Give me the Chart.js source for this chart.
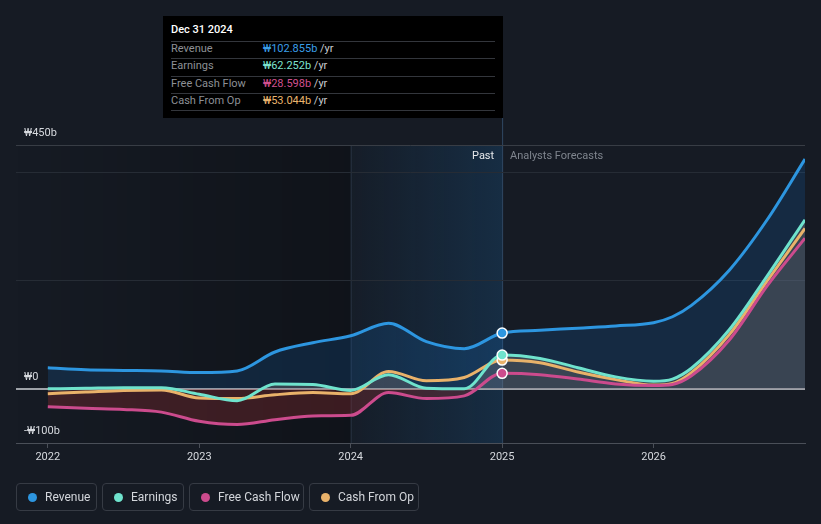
<!DOCTYPE html>
<html><head><meta charset="utf-8">
<script src="https://cdn.jsdelivr.net/npm/chart.js@4/dist/chart.umd.min.js"></script>
<style>
html,body{margin:0;padding:0;background:#161b24;width:821px;height:524px;overflow:hidden;font-family:Roboto,"Noto Sans",sans-serif;}
#wrap{position:absolute;left:0;top:0;width:821px;height:524px;}
canvas{display:block;position:absolute;left:0;top:0;}
.abs{position:absolute;white-space:nowrap;}
.tt{position:absolute;left:163px;top:16px;width:340px;height:102px;background:#000;}
.tt .t{position:absolute;left:8px;top:7px;font-size:11px;color:#fff;font-weight:500;}
.tt .sep{position:absolute;left:8px;width:324px;height:1px;background:#33363c;}
.tt .lab{position:absolute;left:8px;font-size:11px;color:#8d9096;}
.tt .val{position:absolute;left:100px;font-size:11px;color:#c9ccd1;}
.lg{position:absolute;top:483px;border:1px solid #363b44;border-radius:4px;box-sizing:border-box;height:28px;}
.lg .d{position:absolute;left:11px;top:9px;width:9px;height:9px;border-radius:50%;}
.lg .n{position:absolute;left:28px;top:6px;font-size:12px;color:#d3d6db;}
</style></head>
<body>
<div id="wrap">
<canvas id="c" width="821" height="524"></canvas>
<div class="abs" style="left:472px;top:149px;font-size:11px;color:#e6e8eb;">Past</div>
<div class="abs" style="left:510px;top:149px;font-size:11px;color:#7f858e;">Analysts Forecasts</div>
<div class="tt">
  <div class="t">Dec 31 2024</div>
  <div class="sep" style="top:25px"></div>
  <div class="lab" style="top:26px">Revenue</div><div class="val" style="top:26px"><span style="color:#3a9ee8">₩102.855b</span> /yr</div>
  <div class="sep" style="top:42px"></div>
  <div class="lab" style="top:43px">Earnings</div><div class="val" style="top:43px"><span style="color:#7de3cf">₩62.252b</span> /yr</div>
  <div class="sep" style="top:60px"></div>
  <div class="lab" style="top:61px">Free Cash Flow</div><div class="val" style="top:61px"><span style="color:#d2508f">₩28.598b</span> /yr</div>
  <div class="sep" style="top:77px"></div>
  <div class="lab" style="top:78px">Cash From Op</div><div class="val" style="top:78px"><span style="color:#eab56e">₩53.044b</span> /yr</div>
  <div class="sep" style="top:94px"></div>
</div>
<div class="lg" style="left:16px;width:81px"><div class="d" style="background:#2d96e0"></div><div class="n">Revenue</div></div>
<div class="lg" style="left:102px;width:82px"><div class="d" style="background:#6fe3cd"></div><div class="n">Earnings</div></div>
<div class="lg" style="left:189px;width:115px"><div class="d" style="background:#cc4b8d"></div><div class="n">Free Cash Flow</div></div>
<div class="lg" style="left:309px;width:110px"><div class="d" style="background:#e9b26a"></div><div class="n">Cash From Op</div></div>
</div>
<script>
// ---- data (₩ billions) ----
const years = [2022, 2022.25, 2022.5, 2022.75, 2023, 2023.25, 2023.5, 2023.75, 2024, 2024.25, 2024.5, 2024.75, 2025, 2025.25, 2025.5, 2025.75, 2026, 2026.125, 2026.25, 2026.5, 2026.75, 2027];
const revenue      = [38.7, 35, 34, 33, 30, 33, 68, 85, 98, 121, 87, 74, 102.855, 108, 112, 116, 122, 133, 154, 219, 312, 424];
const earnings     = [0, 1, 2, 2, -10, -22, 9, 8, -3, 26, 1, 0, 62.252, 56, 39, 22, 14, 18, 38, 109, 208, 312];
const freeCashFlow = [-33, -36, -38, -43, -60, -66, -57, -50, -49, -7, -18, -13, 28.598, 26, 18, 9, 6, 8, 24, 90, 190, 278];
const cashFromOp   = [-9, -6, -3, -2, -17, -18, -11, -7, -9, 32, 15, 21, 53.044, 48, 31, 17, 7, 10, 30, 100, 199, 296];
const xTickYears = [2022, 2023, 2024, 2025, 2026];
const yTickValues = [-100, 0, 200, 400, 450];
const yTickLabels = {"-100": "-₩100b", "0": "₩0", "450": "₩450b"};
const highlightYear = 2025;

const pts = arr => arr.map((v, i) => ({x: years[i], y: v}));
const ptRadius = ctx => (years[ctx.dataIndex] === highlightYear ? 5 : 0);

function ds(label, data, color, fill) {
  return {
    label, data: pts(data), borderColor: color, backgroundColor: color,
    borderWidth: 3, cubicInterpolationMode: 'monotone', fill,
    pointRadius: ptRadius, pointHoverRadius: 0, pointBackgroundColor: color,
    pointBorderColor: '#ffffff', pointBorderWidth: 1.5
  };
}

const bgPlugin = {
  id: 'bgPlugin',
  beforeDraw(chart) {
    const {ctx, chartArea: a, scales: {x}} = chart;
    const x24 = x.getPixelForValue(2024), x25 = x.getPixelForValue(2025);
    ctx.save();
    let g = ctx.createLinearGradient(a.left, 0, x24, 0);
    g.addColorStop(0, 'rgba(0,0,0,0)');
    g.addColorStop(1, 'rgba(0,0,0,0.28)');
    ctx.fillStyle = g;
    ctx.fillRect(a.left, a.top, x24 - a.left, a.bottom - a.top);
    g = ctx.createLinearGradient(x24, 0, x25, 0);
    g.addColorStop(0, 'rgba(25,110,180,0.03)');
    g.addColorStop(1, 'rgba(25,110,180,0.22)');
    ctx.fillStyle = g;
    ctx.fillRect(x24, a.top, x25 - x24, a.bottom - a.top);
    ctx.strokeStyle = 'rgba(60,75,95,0.5)';
    ctx.lineWidth = 1;
    ctx.beginPath(); ctx.moveTo(x24 + 0.5, a.top); ctx.lineTo(x24 + 0.5, a.bottom); ctx.stroke();
    ctx.strokeStyle = 'rgba(70,110,150,0.55)';
    ctx.beginPath(); ctx.moveTo(x25 + 0.5, 118); ctx.lineTo(x25 + 0.5, a.bottom); ctx.stroke();
    ctx.restore();
  }
};

new Chart(document.getElementById('c'), {
  type: 'line',
  data: {
    datasets: [
      ds('Revenue', revenue, '#2d96e0', {target: 'origin', above: 'rgba(20,135,240,0.15)', below: 'rgba(0,0,0,0)'}),
      ds('Earnings', earnings, '#6fe3cd', {target: 'origin', above: 'rgba(162,127,99,0.3)', below: 'rgba(0,0,0,0)'}),
      ds('Free Cash Flow', freeCashFlow, '#cc4b8d', {target: 'origin', above: 'rgba(0,0,0,0)', below: 'rgba(160,45,50,0.3)'}),
      ds('Cash From Op', cashFromOp, '#e9b26a', false)
    ]
  },
  options: {
    responsive: false,
    animation: false,
    layout: {padding: {top: 145, right: 16, left: 0, bottom: 0}},
    plugins: {
      legend: {display: false},
      tooltip: {enabled: false},
      filler: {drawTime: 'beforeDatasetsDraw'}
    },
    events: [],
    scales: {
      x: {
        type: 'linear', min: 2021.79, max: 2027.0,
        afterBuildTicks: s => { s.ticks = xTickYears.map(v => ({value: v})); },
        afterFit: s => { s.height = 81; },
        ticks: {autoSkip: false, maxRotation: 0, color: '#d6d9de', font: {size: 11, family: 'Roboto'}, padding: 3, callback: v => String(v)},
        grid: {drawOnChartArea: false, drawTicks: true, tickLength: 5, color: '#4a4f58'},
        border: {display: true, color: '#4a4f58'}
      },
      y: {
        type: 'linear', min: -100, max: 450,
        afterBuildTicks: s => { s.ticks = yTickValues.map(v => ({value: v})); },
        afterFit: s => { s.width = 16; },
        ticks: {mirror: true, padding: 8, labelOffset: -12, color: '#d6d9de', font: {size: 11, family: 'Roboto'},
          callback: v => (yTickLabels[String(v)] || '')},
        grid: {
          drawTicks: false,
          color: c => c.tick.value === 0 ? '#9ea2a8' : (c.tick.value === -100 ? '#4a4f58' : (c.tick.value === 450 ? '#383d45' : '#262c35')),
          lineWidth: c => c.tick.value === 0 ? 2 : 1
        },
        border: {display: false}
      }
    }
  },
  plugins: [bgPlugin]
});
</script>
</body></html>
